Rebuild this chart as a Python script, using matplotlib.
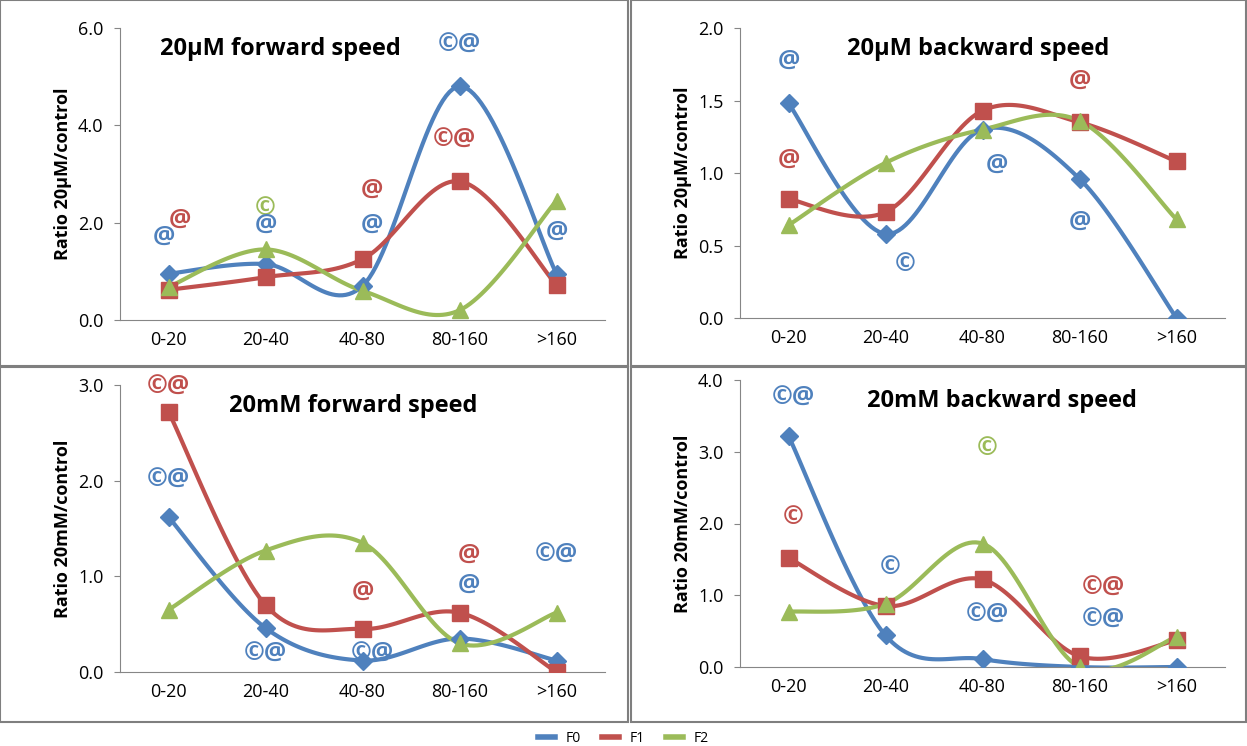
import numpy as np
import matplotlib.pyplot as plt
from matplotlib.patches import Rectangle

cats = ['0-20', '20-40', '40-80', '80-160', '>160']

fwd_um_f0 = [0.95, 1.15, 0.70, 4.80, 0.95]
fwd_um_f1 = [0.62, 0.88, 1.25, 2.85, 0.72]
fwd_um_f2 = [0.68, 1.45, 0.60, 0.20, 2.45]

bwd_um_f0 = [1.48, 0.58, 1.30, 0.96, 0.00]
bwd_um_f1 = [0.82, 0.73, 1.43, 1.35, 1.08]
bwd_um_f2 = [0.64, 1.07, 1.30, 1.36, 0.68]

fwd_mm_f0 = [1.62, 0.46, 0.12, 0.35, 0.12]
fwd_mm_f1 = [2.72, 0.70, 0.45, 0.62, 0.00]
fwd_mm_f2 = [0.65, 1.27, 1.35, 0.30, 0.62]

bwd_mm_f0 = [3.22, 0.44, 0.11, 0.00, 0.00]
bwd_mm_f1 = [1.52, 0.85, 1.22, 0.15, 0.37]
bwd_mm_f2 = [0.77, 0.88, 1.72, 0.00, 0.42]

# significance marks: (category position, y, text, series)
notes_fwd_um = [(-0.05, 1.7, '@', 0), (0.12, 2.05, '@', 1), (1, 2.3, '©', 2), (1, 1.95, '@', 0),
                (2.1, 2.67, '@', 1), (2.1, 1.95, '@', 0), (3, 5.65, '©@', 0), (2.95, 3.7, '©@', 1),
                (4, 1.8, '@', 0)]
notes_bwd_um = [(0, 1.77, '@', 0), (0, 1.09, '@', 1), (1.2, 0.37, '©', 0), (2.15, 1.05, '@', 0),
                (3, 1.63, '@', 1), (3, 0.66, '@', 0)]
notes_fwd_mm = [(0, 2.98, '©@', 1), (0, 2.0, '©@', 0), (1, 0.18, '©@', 0), (2, 0.83, '@', 1),
                (2.1, 0.18, '©@', 0), (3.1, 1.22, '@', 1), (3.1, 0.91, '@', 0), (4, 1.22, '©@', 0)]
notes_bwd_mm = [(0.05, 3.75, '©@', 0), (0.05, 2.09, '©', 1), (1.05, 1.38, '©', 0), (2.05, 3.05, '©', 2),
                (2.05, 0.72, '©@', 0), (3.25, 1.10, '©@', 1), (3.25, 0.65, '©@', 0)]

colors = ['#4F81BD', '#C0504D', '#9BBB59']
markers = ['D', 's', '^']
msizes = [9, 11, 12]


def smooth(y, n=30):
    # Excel-like smoothed line: cubic bezier with catmull-rom control points
    x = np.arange(len(y), dtype=float)
    p = np.column_stack([x, np.array(y, float)])
    pts = []
    for i in range(len(p) - 1):
        p0 = p[i - 1] if i > 0 else p[i]
        p3 = p[i + 2] if i + 2 < len(p) else p[i + 1]
        c1 = p[i] + (p[i + 1] - p0) / 6
        c2 = p[i + 1] - (p3 - p[i]) / 6
        t = np.linspace(0, 1, n)[:, None]
        seg = ((1 - t) ** 3 * p[i] + 3 * (1 - t) ** 2 * t * c1
               + 3 * (1 - t) * t ** 2 * c2 + t ** 3 * p[i + 1])
        pts.append(seg)
    pts = np.vstack(pts)
    return pts[:, 0], pts[:, 1]


W, H = 1247, 746
fig = plt.figure(figsize=(W / 100, H / 100), dpi=100)
plt.rcParams['font.family'] = ['Open Sans', 'DejaVu Sans']

panels = [
    ((120, 28, 605, 320), (0, 6, 2.0), '20µM forward speed', 'Ratio 20µM/control',
     [fwd_um_f0, fwd_um_f1, fwd_um_f2], notes_fwd_um, (0, 0, 628, 366), 0.33),
    ((740, 28, 1225, 318), (0, 2, 0.5), '20µM backward speed', 'Ratio 20µM/control',
     [bwd_um_f0, bwd_um_f1, bwd_um_f2], notes_bwd_um, (631, 0, 1246, 366), 0.49),
    ((120, 385, 605, 672), (0, 3, 1.0), '20mM forward speed', 'Ratio 20mM/control',
     [fwd_mm_f0, fwd_mm_f1, fwd_mm_f2], notes_fwd_mm, (0, 367, 628, 722), 0.48),
    ((740, 380, 1225, 667), (0, 4, 1.0), '20mM backward speed', 'Ratio 20mM/control',
     [bwd_mm_f0, bwd_mm_f1, bwd_mm_f2], notes_bwd_mm, (631, 367, 1246, 722), 0.54),
]

for (x0, y0, x1, y1), (lo, hi, step), title, ylab, series, notes, frame, tx in panels:
    fx0, fy0, fx1, fy1 = frame
    fig.patches.append(Rectangle((fx0 / W, 1 - fy1 / H), (fx1 - fx0) / W, (fy1 - fy0) / H,
                                 transform=fig.transFigure, fill=False, ec='#7f7f7f', lw=1.5))
    ax = fig.add_axes([x0 / W, 1 - y1 / H, (x1 - x0) / W, (y1 - y0) / H])
    for k, vals in enumerate(series):
        sx, sy = smooth(vals)
        ax.plot(sx, sy, color=colors[k], lw=3, zorder=2)
        ax.plot(range(len(vals)), vals, ls='none', marker=markers[k], ms=msizes[k],
                color=colors[k], zorder=3)
    for cx, cy, txt, k in notes:
        ax.text(cx, cy, txt, color=colors[k], fontsize=18, fontweight='bold',
                ha='center', va='center', zorder=4)
    ax.set_xlim(-0.5, 4.5)
    ax.set_ylim(lo, hi)
    ax.set_yticks(np.arange(lo, hi + step / 2, step))
    ax.yaxis.set_major_formatter(plt.FormatStrFormatter('%.1f'))
    ax.set_xticks(range(5))
    ax.set_xticklabels(cats)
    ax.tick_params(labelsize=13, length=0, pad=8)
    ax.tick_params(axis='y', length=4, direction='out', color='#868686')
    for s in ['top', 'right']:
        ax.spines[s].set_visible(False)
    for s in ['left', 'bottom']:
        ax.spines[s].set_color('#868686')
    ax.set_ylabel(ylab, fontsize=13, fontweight='bold')
    ax.text(tx, 0.97, title, transform=ax.transAxes, fontsize=17, fontweight='bold',
            ha='center', va='top')

handles = [plt.Line2D([], [], color=c, lw=4) for c in colors]
fig.legend(handles, ['F0', 'F1', 'F2'], loc='center', bbox_to_anchor=(0.5, 1 - 738 / H),
           ncol=3, frameon=False, fontsize=10, handlelength=1.2, columnspacing=1.5)

fig.savefig('out.png', dpi=100)
